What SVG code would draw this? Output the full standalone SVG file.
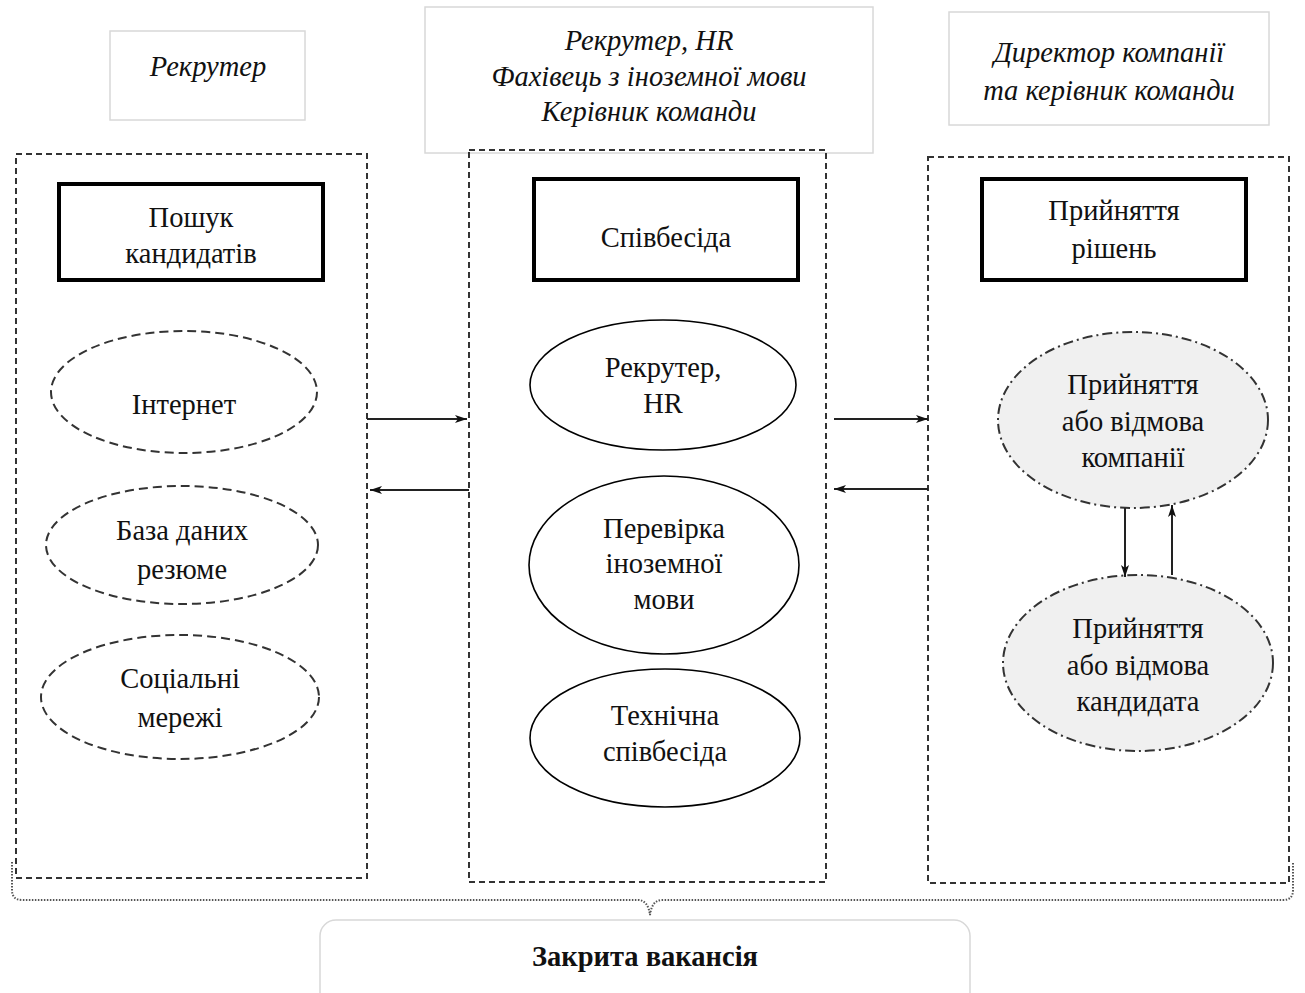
<svg xmlns="http://www.w3.org/2000/svg" width="1305" height="993" viewBox="0 0 1305 993">
<style>
.t{font-family:"Liberation Serif","Times New Roman",serif;font-size:28.5px;fill:#111;text-anchor:middle}
.i{font-style:italic}
.b{font-weight:bold}
.lbl{fill:#fff;stroke:#d8d8d8;stroke-width:1.5}
.cont{fill:none;stroke:#333;stroke-width:2;stroke-dasharray:6 4}
.bold{fill:#fff;stroke:#000;stroke-width:4}
.eL{fill:#fff;stroke:#333;stroke-width:2;stroke-dasharray:9 5}
.eM{fill:#fff;stroke:#000;stroke-width:1.6}
.eR{fill:#f0f0f0;stroke:#333;stroke-width:2;stroke-dasharray:10 4 2 4}
.c{fill:none;stroke:#222;stroke-width:2}
</style>
<defs>
<marker id="ah" viewBox="0 0 12 8" refX="12" refY="4" markerWidth="12" markerHeight="8" markerUnits="userSpaceOnUse" orient="auto">
<path d="M0,0 L12,4 L0,8 L3,4 Z" fill="#111"/>
</marker>
</defs>
<rect width="1305" height="993" fill="#fff"/>

<g id="role-left"><rect class="lbl" x="110" y="31" width="195" height="89"/><text class="t i" x="208" y="76">Рекрутер</text></g>
<g id="role-mid"><rect class="lbl" x="425" y="7" width="448" height="146"/>
<text class="t i" x="649" y="50">Рекрутер, HR</text>
<text class="t i" x="649" y="86">Фахівець з іноземної мови</text>
<text class="t i" x="649" y="121">Керівник команди</text></g>
<g id="role-right"><rect class="lbl" x="949" y="12" width="320" height="113"/>
<text class="t i" x="1109" y="62">Директор компанії</text>
<text class="t i" x="1109" y="100">та керівник команди</text></g>

<g id="container-left"><rect class="cont" x="16" y="154" width="351" height="724"/></g>
<g id="container-mid"><rect class="cont" x="469" y="150" width="357" height="732"/></g>
<g id="container-right"><rect class="cont" x="928" y="157" width="361" height="726"/></g>

<g id="search"><rect class="bold" x="59" y="184" width="264" height="96"/>
<text class="t" x="191" y="227">Пошук</text><text class="t" x="191" y="263">кандидатів</text></g>
<g id="interview"><rect class="bold" x="534" y="179" width="264" height="101"/>
<text class="t" x="666" y="247">Співбесіда</text></g>
<g id="decision"><rect class="bold" x="982" y="179" width="264" height="101"/>
<text class="t" x="1114" y="220">Прийняття</text><text class="t" x="1114" y="258">рішень</text></g>

<g id="internet"><ellipse class="eL" cx="184" cy="392" rx="133" ry="61"/><text class="t" x="184" y="414">Інтернет</text></g>
<g id="resume-db"><ellipse class="eL" cx="182" cy="545" rx="136" ry="59"/><text class="t" x="182" y="540">База даних</text><text class="t" x="182" y="579">резюме</text></g>
<g id="social"><ellipse class="eL" cx="180" cy="697" rx="139" ry="62"/><text class="t" x="180" y="688">Соціальні</text><text class="t" x="180" y="727">мережі</text></g>

<g id="recruiter-hr"><ellipse class="eM" cx="663" cy="385" rx="133" ry="65"/><text class="t" x="663" y="377">Рекрутер,</text><text class="t" x="663" y="413">HR</text></g>
<g id="language-check"><ellipse class="eM" cx="664" cy="565" rx="135" ry="89"/><text class="t" x="664" y="538">Перевірка</text><text class="t" x="664" y="573">іноземної</text><text class="t" x="664" y="609">мови</text></g>
<g id="tech-interview"><ellipse class="eM" cx="665" cy="738" rx="135" ry="69"/><text class="t" x="665" y="725">Технічна</text><text class="t" x="665" y="761">співбесіда</text></g>

<g id="company-decision"><ellipse class="eR" cx="1133" cy="420" rx="135" ry="88"/><text class="t" x="1133" y="394">Прийняття</text><text class="t" x="1133" y="431">або відмова</text><text class="t" x="1133" y="467">компанії</text></g>
<g id="candidate-decision"><ellipse class="eR" cx="1138" cy="663" rx="135" ry="88"/><text class="t" x="1138" y="638">Прийняття</text><text class="t" x="1138" y="675">або відмова</text><text class="t" x="1138" y="711">кандидата</text></g>

<g id="connectors">
<line class="c" x1="367" y1="419" x2="467" y2="419" marker-end="url(#ah)"/>
<line class="c" x1="469" y1="490" x2="370" y2="490" marker-end="url(#ah)"/>
<line class="c" x1="834" y1="419" x2="928" y2="419" marker-end="url(#ah)"/>
<line class="c" x1="928" y1="489" x2="834" y2="489" marker-end="url(#ah)"/>
<line class="c" x1="1125" y1="508" x2="1125" y2="577" marker-end="url(#ah)"/>
<line class="c" x1="1172" y1="575" x2="1172" y2="505" marker-end="url(#ah)"/>
<path d="M12,862 L12,890 Q12,900 22,900 L638,900 Q648,900 650,915 Q652,900 662,900 L1283,900 Q1293,900 1293,890 L1293,862" fill="none" stroke="#555" stroke-width="2" stroke-dasharray="1.5 1.5"/>
</g>

<g id="closed-vacancy"><rect class="lbl" x="320" y="920" width="650" height="90" rx="16"/>
<text class="t b" x="645" y="966">Закрита вакансія</text></g>
</svg>
